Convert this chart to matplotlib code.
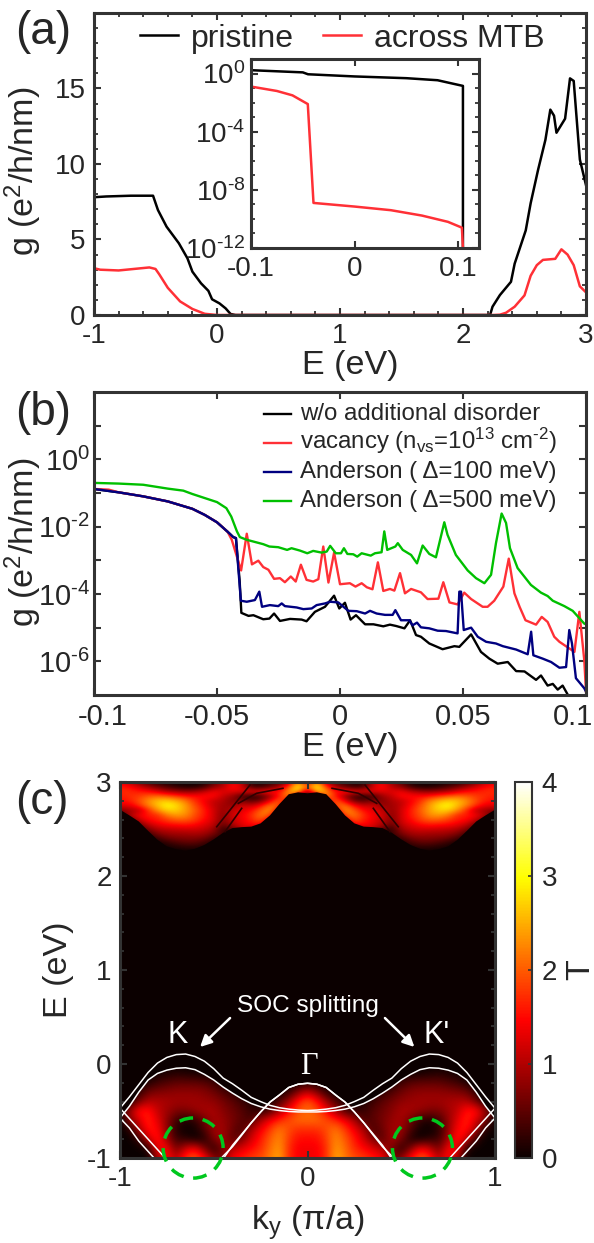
import numpy as np
import matplotlib
matplotlib.use("Agg")
import matplotlib.pyplot as plt
from matplotlib.lines import Line2D
from matplotlib.patches import Ellipse, Polygon
from matplotlib.ticker import MultipleLocator, FixedLocator, NullFormatter
from matplotlib.transforms import ScaledTranslation

plt.rcParams["font.family"] = ["Liberation Sans", "DejaVu Sans"]
plt.rcParams["mathtext.fontset"] = "custom"
plt.rcParams["mathtext.rm"] = "Liberation Sans"
plt.rcParams["mathtext.it"] = "Liberation Sans"
plt.rcParams["mathtext.default"] = "regular"

W, H = 594, 1243
DARK = "#333333"
TXT = "#262626"
RED = "#ff3036"
NAVY = "#000080"
GREEN = "#00c000"

# panel a
a_e_pristine = [-1, -0.9, -0.7, -0.52, -0.48, -0.41, -0.31, -0.24, -0.2, -0.13, -0.07, -0.04, 0.02, 0.07, 0.11, 0.15,
                2.2, 2.22, 2.24, 2.3, 2.39, 2.42, 2.51, 2.55, 2.61, 2.67, 2.71, 2.74, 2.76, 2.83, 2.87, 2.9, 2.95, 3]
a_g_pristine = [7.8, 7.85, 7.9, 7.9, 6.95, 5.85, 4.75, 3.75, 2.87, 2.1, 1.6, 1.04, 0.77, 0.44, 0.07, 0,
                0, 0, 0.55, 1.32, 2.2, 3.4, 5.6, 7.4, 9.6, 11.6, 13.6, 13.2, 12.07, 13, 15.67, 15.5, 10.3, 8.6]
a_e_mtb = [-1, -0.95, -0.8, -0.55, -0.5, -0.47, -0.4, -0.3, -0.2, -0.1, 0, 2.25, 2.3, 2.35, 2.42, 2.5, 2.55, 2.6,
           2.65, 2.75, 2.8, 2.85, 2.9, 2.95, 3]
a_g_mtb = [3.1, 3.0, 2.95, 3.15, 3.05, 2.7, 1.8, 0.9, 0.4, 0.08, 0, 0, 0.02, 0.15, 0.55, 1.3, 2.6, 3.3,
           3.65, 3.72, 4.35, 4.0, 3.3, 1.9, 1.5]

# inset of a, log10 values
in_e_pristine = [-0.1, -0.05, -0.045, 0, 0.05, 0.08, 0.095, 0.1045, 0.1045]
in_log_pristine = [0.23, 0.08, -0.05, -0.2, -0.32, -0.46, -0.7, -0.85, -12]
in_e_mtb = [-0.098, -0.075, -0.06, -0.0452, -0.0397, 0, 0.035, 0.065, 0.09, 0.1035, 0.1045]
in_log_mtb = [-0.92, -1.2, -1.5, -2.1, -8.9, -9.15, -9.4, -9.77, -10.2, -10.6, -12]

# panel b, log10 values
b_e_black = [-0.1, -0.09, -0.08, -0.07, -0.06, -0.055, -0.05, -0.0457, -0.0434, -0.0423, -0.0408, -0.0401, -0.0372,
             -0.0352, -0.0312, -0.0287, -0.0268, -0.0244, -0.0203, -0.0156, -0.0136, -0.0102, -0.0061, -0.0024, -0.0003,
             0.002, 0.0043, 0.0065, 0.0102, 0.0136, 0.0176, 0.0203, 0.0228, 0.0262, 0.0285, 0.0309, 0.0329, 0.0363,
             0.0417, 0.0465, 0.0485, 0.0533, 0.0573, 0.0607, 0.0641, 0.0682, 0.0716, 0.075, 0.0797, 0.0817, 0.0844,
             0.0865, 0.0885, 0.0905, 0.0932]
b_log_black = [-0.88, -0.98, -1.1, -1.25, -1.47, -1.65, -1.87, -2.15, -2.31, -2.34, -3.6, -4.56, -4.65,
               -4.63, -4.75, -4.73, -4.58, -4.8, -4.74, -4.76, -4.81, -4.53, -4.38, -4.05, -4.43,
               -4.26, -4.76, -4.63, -4.9, -4.9, -4.96, -4.91, -4.95, -5.02, -4.78, -5.22, -5.27, -5.47,
               -5.64, -5.55, -5.57, -5.2, -5.72, -5.92, -6.07, -6.02, -6.29, -6.3, -6.55, -6.42, -6.72,
               -6.67, -6.84, -6.72, -7.07]
b_e_red = [-0.1, -0.094, -0.09, -0.08, -0.07, -0.06, -0.055, -0.05, -0.0457, -0.044, -0.0402, -0.0379, -0.0358, -0.0332,
           -0.0312, -0.0291, -0.0268, -0.0244, -0.0224, -0.02, -0.018, -0.0159, -0.0136, -0.0109, -0.0088, -0.0068,
           -0.0047, -0.0024, 0, 0.004, 0.0063, 0.0088, 0.0109, 0.0132, 0.0154, 0.0176, 0.0203, 0.0221, 0.0244, 0.0264,
           0.0289, 0.0329, 0.0356, 0.04, 0.042, 0.0445, 0.0478, 0.0505, 0.0533, 0.058, 0.06, 0.0627, 0.0664, 0.0686,
           0.0709, 0.073, 0.0754, 0.0797, 0.082, 0.0844, 0.0871, 0.0892, 0.0953, 0.0973, 0.0993, 0.1]
b_log_red = [-0.88, -0.9, -0.98, -1.1, -1.25, -1.47, -1.65, -1.87, -2.15, -2.39, -3.3, -2.21, -3.12, -3.01,
             -3.2, -3.28, -3.55, -3.53, -3.65, -3.48, -3.63, -3.13, -3.58, -3.63, -3.56, -2.59,
             -3.66, -2.77, -3.71, -3.68, -3.78, -3.68, -3.8, -3.86, -3.06, -3.91, -3.85, -3.9, -3.38, -3.98,
             -3.85, -3.95, -4.15, -4.14, -3.65, -4.25, -4.31, -3.96, -4.15, -4.38, -4.38, -4.2, -3.78, -2.95,
             -3.98, -4.38, -4.78, -4.91, -4.68, -4.83, -5.27, -5.42, -5.72, -4.53, -5.97, -6.9]
b_e_navy = [-0.1, -0.09, -0.08, -0.07, -0.06, -0.055, -0.05, -0.0457, -0.0434, -0.0423, -0.0403, -0.0379, -0.0346, -0.0328,
            -0.0317, -0.0285, -0.0251, -0.0237, -0.0224, -0.0176, -0.0149, -0.0115, -0.0095, -0.0061, -0.004, -0.0007,
            0.0014, 0.0034, 0.0068, 0.0102, 0.0122, 0.0149, 0.0183, 0.0214, 0.0225, 0.0248, 0.0282, 0.0295, 0.0313,
            0.0329, 0.0363, 0.0397, 0.0431, 0.0478, 0.0485, 0.0492, 0.0503, 0.0533, 0.056, 0.0594, 0.0634, 0.0662,
            0.0716, 0.0763, 0.0777, 0.0786, 0.0824, 0.0858, 0.0892, 0.0919, 0.0932, 0.0943, 0.0959, 0.0993, 0.1]
b_log_navy = [-0.88, -0.98, -1.1, -1.25, -1.47, -1.65, -1.87, -2.15, -2.31, -2.34, -4.2, -4.23, -4.18, -3.93,
              -4.38, -4.33, -4.36, -4.28, -4.36, -4.4, -4.45, -4.43, -4.33, -4.28, -4.23, -4.25,
              -4.38, -4.5, -4.51, -4.58, -4.5, -4.58, -4.62, -4.62, -4.48, -4.78, -4.78, -4.93, -4.85,
              -4.99, -5.02, -5.09, -5.1, -5.17, -3.93, -3.93, -5.07, -5.0, -5.27, -5.42, -5.47, -5.55,
              -5.65, -5.79, -5.12, -5.82, -5.92, -6.02, -6.19, -6.17, -5.07, -5.47, -6.5, -6.8, -6.9]
b_e_green = [-0.1, -0.09, -0.08, -0.07, -0.0637, -0.06, -0.055, -0.05, -0.0462, -0.0442, -0.0419, -0.0407, -0.0379, -0.0312,
             -0.0287, -0.0251, -0.0215, -0.0197, -0.0163, -0.0133, -0.0109, -0.0075, -0.0054, -0.004, -0.0017, 0.0004,
             0.0016, 0.003, 0.0054, 0.007, 0.0088, 0.0125, 0.0142, 0.0169, 0.018, 0.0192, 0.0225, 0.0235, 0.0255,
             0.0289, 0.0313, 0.0336, 0.0363, 0.039, 0.0424, 0.0437, 0.0471, 0.0519, 0.0553, 0.0587, 0.0614, 0.0634,
             0.0657, 0.0675, 0.0691, 0.0722, 0.0776, 0.0817, 0.0844, 0.0865, 0.0912, 0.0946, 0.0993, 0.1]
b_log_green = [-0.7, -0.72, -0.755, -0.87, -0.93, -1.03, -1.15, -1.27, -1.45, -1.7, -2.14, -2.31, -2.39, -2.52,
               -2.59, -2.61, -2.69, -2.64, -2.71, -2.79, -2.72, -2.77, -2.74, -2.57, -2.79, -2.79,
               -2.64, -2.81, -2.82, -2.89, -2.79, -2.86, -2.79, -2.76, -2.14, -2.69, -2.59, -2.49, -2.69,
               -2.84, -3.09, -2.56, -2.81, -2.91, -1.87, -2.24, -2.84, -3.3, -3.53, -3.68, -3.43, -2.49,
               -1.61, -1.89, -2.64, -3.23, -3.73, -3.96, -4.06, -4.2, -4.36, -4.5, -4.88, -4.9]

# panel c, left half of the zone, mirrored when drawn
ky_half = [-1, -0.95, -0.9, -0.85, -0.8, -0.75, -0.7, -0.65, -0.6, -0.55, -0.5, -0.45, -0.4, -0.35, -0.3, -0.25, -0.2, -0.15, -0.1, -0.05, 0]
band1 = [-0.47, -0.35, -0.22, -0.09, 0.01, 0.07, 0.1, 0.106, 0.08, 0.03, -0.05, -0.15, -0.21, -0.28, -0.355, -0.4, -0.44, -0.465, -0.48, -0.49, -0.495]
band2 = [-0.575, -0.45, -0.3, -0.17, -0.1, -0.065, -0.045, -0.04, -0.06, -0.11, -0.17, -0.245, -0.31, -0.37, -0.42, -0.455, -0.48, -0.495, -0.505, -0.51, -0.51]
nan = float("nan")
gamma1 = [nan, nan, nan, nan, nan, nan, nan, nan, nan, nan, -1.1, -0.98, -0.88, -0.755, -0.625, -0.51, -0.405, -0.33, -0.25, -0.215, -0.205]
gamma2 = [nan, nan, nan, nan, nan, nan, nan, nan, nan, nan, -1.13, -1.01, -0.865, -0.745, -0.625, -0.51, -0.405, -0.33, -0.25, -0.215, -0.205]
band3 = [-0.47, -0.58, -0.69, -0.8, -0.91, -1.02, nan, nan, nan, nan, nan, nan, nan, nan, nan, nan, nan, nan, nan, nan, nan]
band4 = [-0.575, -0.68, -0.82, -0.93, -1.04, nan, nan, nan, nan, nan, nan, nan, nan, nan, nan, nan, nan, nan, nan, nan, nan]
up_bottom = [2.705, 2.645, 2.58, 2.48, 2.385, 2.315, 2.285, 2.27, 2.29, 2.33, 2.39, 2.46, 2.51, 2.52, 2.525, 2.56, 2.645, 2.765, 2.87, 2.89, 2.88]

# dark streaks in the upper bands
streak1_ky = [-0.484, -0.307]
streak1_e = [2.524, 2.968]
streak2_ky = [-0.44, -0.351]
streak2_e = [2.471, 2.72]
streak3_ky = [-0.369, -0.271, -0.131]
streak3_e = [2.773, 2.88, 2.933]

# rows run from E = -1 to 0.1 in steps of 0.1
low_T = [
    [0, 0, 0, 0, 0.9, 1.6, 1.0, 1.8, 2.0, 1.6, 0.8, 0.6, 1.5, 1.6, 1.8, 1.9, 2.2, 2.5, 1.7, 1.4, 1.4],
    [0, 0, 0, 0.1, 1.4, 1.5, 0.6, 1.2, 1.5, 0.7, 0.1, 0.7, 1.0, 1.3, 1.5, 1.7, 2.1, 2.4, 1.7, 1.4, 1.4],
    [0, 0, 0.2, 1.1, 1.7, 0.9, 0.3, 0.2, 0, 0.1, 0.7, 1.0, 0.4, 0.7, 1.2, 1.6, 2.0, 2.3, 1.8, 1.5, 1.5],
    [0, 0.1, 0.9, 1.6, 1.5, 0.8, 0.15, 0, 0.05, 0.4, 0.9, 0.9, 0.6, 0.3, 1.0, 1.4, 1.8, 2.2, 1.9, 1.7, 1.7],
    [0, 0.7, 1.2, 1.7, 1.3, 0.8, 0.3, 0.1, 0.2, 0.6, 0.95, 0.85, 0.65, 0.5, 0.3, 1.0, 1.4, 1.7, 1.9, 2.1, 2.1],
    [0.05, 0.9, 1.6, 1.6, 1.1, 0.9, 0.7, 0.7, 0.85, 0.95, 0.95, 0.75, 0.6, 0.45, 0.3, 0.15, 0.4, 0.9, 1.5, 1.9, 2.1],
    [0, 0, 0.6, 1.0, 1.0, 0.95, 0.9, 0.9, 0.9, 0.85, 0.8, 0.65, 0.5, 0.3, 0.1, 0, 0.1, 0.4, 0.9, 1.6, 2.0],
    [0, 0, 0.2, 0.6, 0.7, 0.75, 0.8, 0.8, 0.8, 0.75, 0.6, 0.4, 0.2, 0.05, 0, 0, 0, 0, 0.2, 0.7, 1.1],
    [0, 0, 0, 0.1, 0.3, 0.4, 0.5, 0.5, 0.5, 0.45, 0.3, 0.1, 0, 0, 0, 0, 0, 0, 0, 0, 0.1],
    [0, 0, 0, 0, 0.05, 0.1, 0.15, 0.1, 0.05, 0, 0, 0, 0, 0, 0, 0, 0, 0, 0, 0, 0],
    [0, 0, 0, 0, 0, 0, 0, 0, 0, 0, 0, 0, 0, 0, 0, 0, 0, 0, 0, 0, 0],
    [0, 0, 0, 0, 0, 0, 0, 0, 0, 0, 0, 0, 0, 0, 0, 0, 0, 0, 0, 0, 0],
]
# rows run from E = 2.25 to 3 in steps of 0.05
up_T = [
    [0, 0, 0, 0, 0, 0, 0, 0, 0, 0, 0, 0, 0, 0, 0, 0, 0, 0, 0, 0, 0],
    [0, 0, 0, 0, 0, 0.05, 0.1, 0.15, 0.15, 0.1, 0, 0, 0, 0, 0, 0, 0, 0, 0, 0, 0],
    [0, 0, 0, 0, 0.05, 0.2, 0.35, 0.45, 0.45, 0.3, 0.1, 0, 0, 0, 0, 0, 0, 0, 0, 0, 0],
    [0, 0, 0, 0.05, 0.3, 0.55, 0.65, 0.7, 0.7, 0.6, 0.3, 0.1, 0, 0, 0, 0, 0, 0, 0, 0, 0],
    [0, 0, 0, 0.3, 0.7, 0.85, 0.9, 0.9, 0.95, 0.9, 0.65, 0.3, 0, 0, 0, 0, 0, 0, 0, 0, 0],
    [0, 0, 0.2, 0.7, 1.0, 1.1, 1.15, 1.2, 1.2, 1.1, 0.9, 0.2, 0.5, 1.1, 1.0, 0.4, 0, 0, 0, 0, 0],
    [0, 0.1, 0.6, 1.1, 1.35, 1.5, 1.55, 1.6, 1.5, 1.3, 1.1, 0.5, 1.0, 1.3, 1.5, 1.6, 0.4, 0, 0, 0, 0],
    [0.05, 0.5, 1.1, 1.5, 1.6, 1.8, 2.0, 2.0, 1.8, 1.5, 1.2, 0.7, 1.1, 1.4, 1.6, 2.0, 1.3, 0, 0, 0, 0],
    [0.2, 1.0, 1.4, 1.6, 1.7, 2.2, 2.4, 2.3, 1.9, 1.6, 1.2, 0.7, 1.2, 1.4, 1.7, 2.2, 2.0, 0.5, 0, 0, 0],
    [0.7, 0.9, 1.0, 1.7, 2.3, 2.7, 2.7, 2.4, 2.0, 1.6, 1.2, 0.8, 1.1, 1.3, 1.5, 2.0, 2.4, 1.3, 0, 0, 0],
    [1.3, 1.3, 1.7, 2.2, 2.6, 3.0, 2.8, 2.4, 1.9, 1.5, 1.1, 0.9, 0.8, 1.2, 1.1, 1.5, 2.2, 2.0, 0.4, 0, 0],
    [1.5, 1.6, 1.9, 2.3, 2.6, 2.7, 2.5, 2.2, 1.7, 1.4, 1.1, 1.0, 0.7, 0.7, 0.5, 0.6, 1.4, 2.1, 1.3, 0, 0],
    [1.6, 1.7, 1.8, 2.0, 2.1, 2.0, 1.8, 1.6, 1.5, 1.5, 1.5, 1.1, 0.9, 0.3, 0.1, 0.3, 0.8, 1.6, 2.4, 0.5, 0],
    [1.7, 1.7, 1.6, 1.5, 1.3, 1.0, 0.9, 0.8, 0.9, 1.1, 1.4, 1.3, 1.3, 1.3, 1.4, 1.4, 1.6, 1.5, 2.4, 2.8, 0.6],
    [1.6, 1.5, 1.2, 0.9, 0.6, 0.4, 0.2, 0.1, 0.1, 0.3, 0.8, 1.0, 1.6, 1.2, 0.3, 0.2, 0.5, 0.9, 1.8, 3.1, 2.0],
    [1.3, 1.1, 0.7, 0.4, 0.2, 0.1, 0.05, 0.05, 0.05, 0.1, 0.5, 0.9, 1.4, 1.2, 0.2, 0.2, 0.3, 0.5, 1.0, 2.6, 1.0],
]
cb_ticks = [0, 1, 2, 3, 4]
a_xticks = [-1, 0, 1, 2, 3]
a_yticks = [0, 5, 10, 15]
in_xticks = [-0.1, 0, 0.1]
in_yticks = [1e0, 1e-4, 1e-8, 1e-12]
in_ylabels = ["$10^{\\text{0}}$", "$10^{\\text{-4}}$", "$10^{\\text{-8}}$", "$10^{\\text{-12}}$"]
b_xticks = [-0.1, -0.05, 0, 0.05, 0.1]
b_xlabels = ["-0.1", "-0.05", "0", "0.05", "0.1"]
b_yticks = [1e0, 1e-2, 1e-4, 1e-6]
b_ylabels = ["$10^{\\text{0}}$", "$10^{\\text{-2}}$", "$10^{\\text{-4}}$", "$10^{\\text{-6}}$"]
b_names = ["w/o additional disorder", "vacancy (n$_{vs}$=10$^{13}$ cm$^{\\text{-2}}$)",
           "Anderson ( Δ=100 meV)", "Anderson ( Δ=500 meV)"]


def px_axes(left, top, right, bottom, **kw):
    return fig.add_axes([left / W, 1 - bottom / H, (right - left) / W, (bottom - top) / H], **kw)


def frame(ax, size=20, both=True):
    for s in ax.spines.values():
        s.set_linewidth(2.2)
        s.set_color(DARK)
    ax.tick_params(which="major", direction="in", length=5, width=1.5, color=DARK, labelsize=size,
                   labelcolor=TXT, top=both, right=both, pad=6)
    ax.tick_params(which="minor", direction="in", length=3, width=1.3, color=DARK, top=both, right=both)


fig = plt.figure(figsize=(W / 100, H / 100), dpi=100)

# (a)
ax = px_axes(94, 13, 586, 315)
ax.plot(a_e_pristine, a_g_pristine, color="k", lw=1.8, label="pristine")
ax.plot(a_e_mtb, a_g_mtb, color=RED, lw=1.8, label="across MTB")
ax.set_xlim(-1, 3)
ax.set_ylim(0, 20)
ax.set_xticks(a_xticks)
ax.set_xticklabels(["-1", "0", "1", "2", "3"])
ax.set_yticks(a_yticks)
ax.xaxis.set_minor_locator(MultipleLocator(0.2))
ax.yaxis.set_minor_locator(MultipleLocator(1))
frame(ax)
ax.set_xlabel("E (eV)", fontsize=24.5, color=TXT)
ax.set_ylabel("g (e$^2$/h/nm)", fontsize=24.5, color=TXT)
ax.xaxis.set_label_coords(0.52, -0.116)
ax.yaxis.set_label_coords(-0.102, 0.477)
ax.legend(loc="center", bbox_to_anchor=(0.504, 0.915), ncol=2, frameon=False, fontsize=23,
          handlelength=1.2, handletextpad=0.4, columnspacing=0.9, borderpad=0, labelcolor=TXT)

ins = px_axes(251, 59, 479, 248)
ins.plot(in_e_pristine, 10.0 ** np.array(in_log_pristine), color="k", lw=1.8)
ins.plot(in_e_mtb, 10.0 ** np.array(in_log_mtb), color=RED, lw=1.8)
ins.set_yscale("log")
ins.set_xlim(-0.1, 0.12)
ins.set_ylim(1e-12, 1e1)
ins.set_xticks(in_xticks)
ins.set_xticklabels(["-0.1", "0", "0.1"])
ins.yaxis.set_major_locator(FixedLocator(in_yticks))
ins.set_yticklabels(in_ylabels)
ins.yaxis.set_minor_locator(FixedLocator([10.0 ** i for i in range(-12, 2)]))
ins.yaxis.set_minor_formatter(NullFormatter())
frame(ins)
ins.tick_params(axis="y", which="major", pad=4)

# (b)
bx = px_axes(94, 392, 586, 695)
b_colors = ["k", RED, NAVY, GREEN]
b_series = [(b_e_black, b_log_black), (b_e_red, b_log_red), (b_e_navy, b_log_navy), (b_e_green, b_log_green)]
for (e, lg), col in zip(b_series, b_colors):
    bx.plot(e, 10.0 ** np.array(lg), color=col, lw=1.7)
bx.set_yscale("log")
bx.set_xlim(-0.1, 0.1)
bx.set_ylim(1e-7, 1e2)
bx.set_xticks(b_xticks)
bx.set_xticklabels(b_xlabels)
bx.yaxis.set_major_locator(FixedLocator(b_yticks))
bx.set_yticklabels(b_ylabels)
bx.yaxis.set_minor_locator(FixedLocator([1e1, 1e-1, 1e-3, 1e-5]))
bx.yaxis.set_minor_formatter(NullFormatter())
frame(bx, size=21)
bx.tick_params(which="minor", length=5, width=1.5)
bx.tick_params(axis="y", which="major", pad=3)
bx.set_xlabel("E (eV)", fontsize=24.5, color=TXT)
bx.set_ylabel("g (e$^2$/h/nm)", fontsize=24.5, color=TXT)
bx.xaxis.set_label_coords(0.52, -0.122)
bx.yaxis.set_label_coords(-0.102, 0.505)
# end labels sit inside the figure in the original
xlabs = bx.get_xticklabels()
xlabs[0].set_transform(xlabs[0].get_transform() + ScaledTranslation(0.09, 0, fig.dpi_scale_trans))
xlabs[-1].set_transform(xlabs[-1].get_transform() + ScaledTranslation(-0.13, 0, fig.dpi_scale_trans))
# legend rows placed by hand, the mathtext row throws off legend spacing
for name, col, py in zip(b_names, b_colors, [414, 443, 472, 501]):
    fig.add_artist(Line2D([264 / W, 291 / W], [1 - py / H, 1 - py / H], color=col, lw=1.7))
    fig.text(300 / W, 1 - (py + 6) / H, name, fontsize=17.3, color=TXT, va="baseline")

# (c)
cx = px_axes(120, 782, 495, 1158)
cx.set_facecolor(plt.get_cmap("hot")(0.0))
half = np.array(ky_half)
ky_full = np.concatenate([half, -half[-2::-1]])


def mirror(values):
    v = np.array(values, dtype=float)
    return np.concatenate([v, v[..., -2::-1]], axis=-1)


low = cx.imshow(mirror(low_T), cmap="hot", vmin=0, vmax=4, origin="lower", aspect="auto",
                extent=(-1.025, 1.025, -1.05, 0.15), interpolation="bicubic")
upper_edge = np.fmax(mirror(band2), mirror(gamma1))
clip_low = np.column_stack([np.r_[ky_full, 1, -1], np.r_[upper_edge, -1, -1]])
low.set_clip_path(Polygon(clip_low, transform=cx.transData))
up = cx.imshow(mirror(up_T), cmap="hot", vmin=0, vmax=4, origin="lower", aspect="auto",
               extent=(-1.025, 1.025, 2.225, 3.025), interpolation="bicubic")
clip_up = np.column_stack([np.r_[ky_full, 1, -1], np.r_[mirror(up_bottom), 3, 3]])
up.set_clip_path(Polygon(clip_up, transform=cx.transData))

for sk, se in [(streak1_ky, streak1_e), (streak2_ky, streak2_e), (streak3_ky, streak3_e)]:
    cx.plot(sk, se, color="#300000", lw=1.2)
    cx.plot(-np.array(sk), se, color="#300000", lw=1.2)

for band in [band1, band2, gamma1, gamma2, band3, band4]:
    cx.plot(ky_full, mirror(band), color="white", lw=1.1)

for cen in [-0.61, 0.613]:
    cx.add_patch(Ellipse((cen, -0.894), 0.32, 0.64, fill=False, ec="#00c81e", lw=2.5,
                         linestyle=(0, (4, 2.8)), clip_on=False, zorder=5))

cx.set_xlim(-1, 1)
cx.set_ylim(-1, 3)
cx.set_xticks([-1, 0, 1])
cx.set_xticklabels(["-1", "0", "1"])
cx.set_yticks([-1, 0, 1, 2, 3])
cx.set_yticklabels(["-1", "0", "1", "2", "3"])
cx.yaxis.set_minor_locator(MultipleLocator(0.2))
frame(cx)
cx.set_xlabel("k$_y$ (π/a)", fontsize=24.5, color=TXT, labelpad=8)
cx.set_ylabel("E (eV)", fontsize=24.5, color=TXT)
cx.yaxis.set_label_coords(-0.123, 0.5)

cx.text(0, 0.617, "SOC splitting", color="white", fontsize=17.6, ha="center", va="center")
cx.text(-0.69, 0.31, "K", color="white", fontsize=22, ha="center", va="center")
cx.text(0.687, 0.31, "K'", color="white", fontsize=22, ha="center", va="center")
cx.text(0.01, -0.03, "Γ", color="white", fontsize=22, ha="center", va="center", family="Liberation Serif")
for start, tip in [((-0.413, 0.489), (-0.573, 0.181)), ((0.413, 0.489), (0.57, 0.181))]:
    cx.annotate("", xy=tip, xytext=start,
                arrowprops=dict(arrowstyle="-|>", color="white", lw=1.8, mutation_scale=17, shrinkA=0, shrinkB=0))

cax = px_axes(515, 782, 532, 1158)
cb = fig.colorbar(low, cax=cax)
cb.set_ticks(cb_ticks)
cb.outline.set_linewidth(1.5)
cb.outline.set_edgecolor(DARK)
cax.tick_params(direction="in", length=3, width=1.2, color=DARK, labelsize=20, labelcolor=TXT, pad=7)
cb.set_label("T", fontsize=24.5, color=TXT, labelpad=6)

fig.text(15 / W, 1 - 32 / H, "(a)", fontsize=33, color=TXT, va="center")
fig.text(15 / W, 1 - 413 / H, "(b)", fontsize=33, color=TXT, va="center")
fig.text(15 / W, 1 - 802 / H, "(c)", fontsize=33, color=TXT, va="center")

fig.savefig("out.png", dpi=100)
